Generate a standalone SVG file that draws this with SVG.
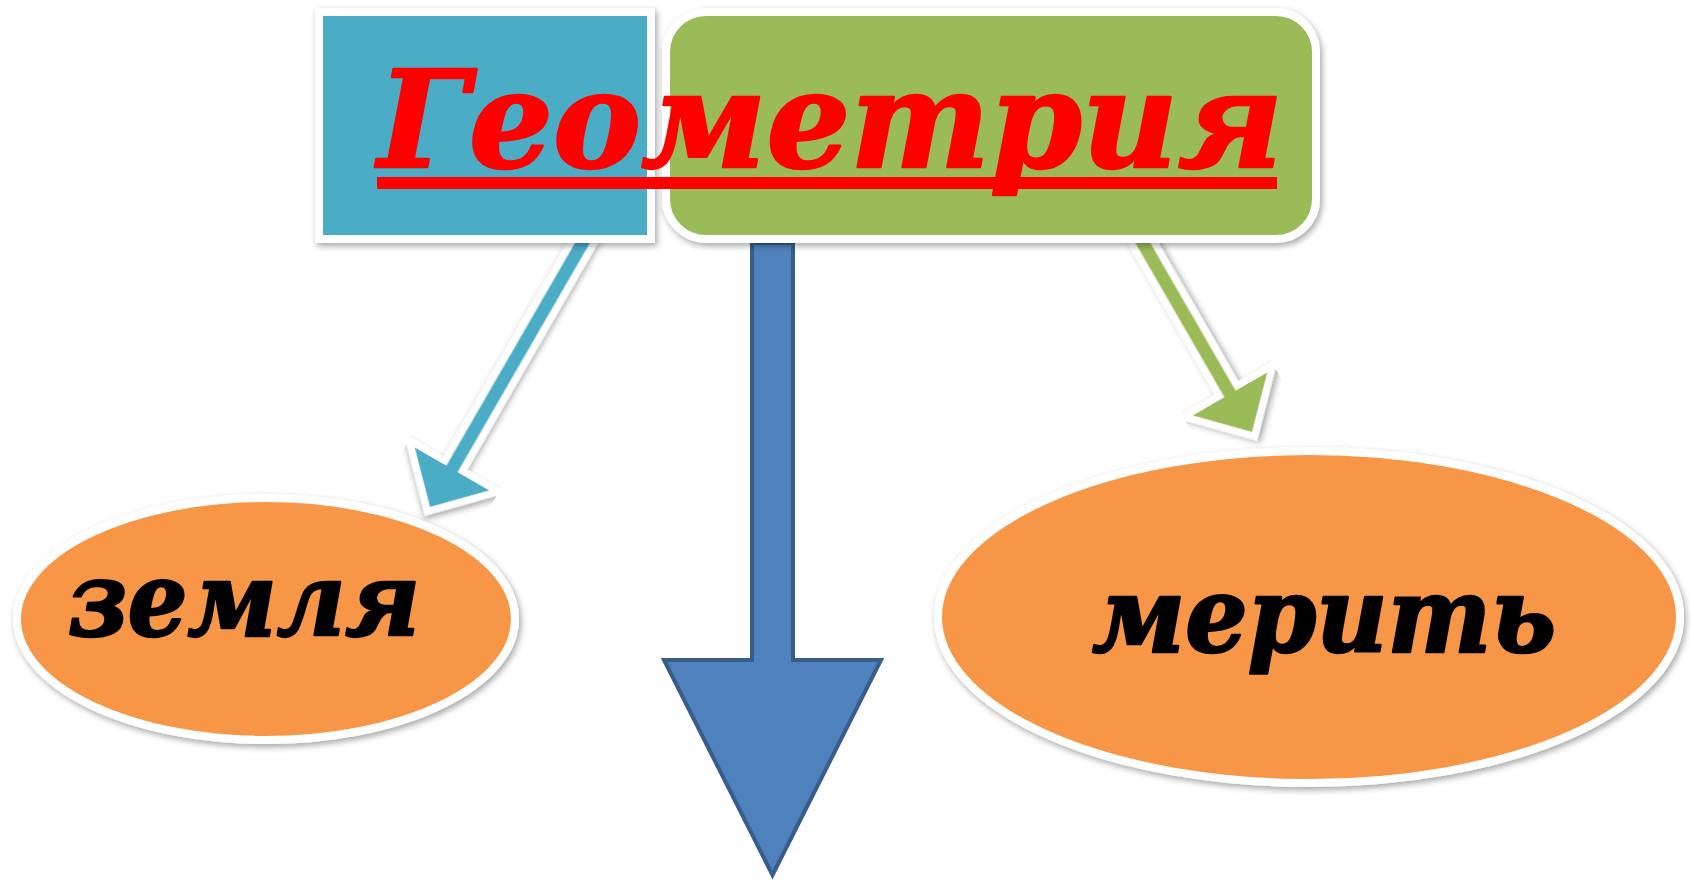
<svg xmlns="http://www.w3.org/2000/svg" width="1692" height="880" viewBox="0 0 1692 880">
  <defs>
    <filter id="sh" x="-10%" y="-10%" width="120%" height="130%">
      <feDropShadow dx="2" dy="3" stdDeviation="3" flood-color="#000" flood-opacity="0.35"/>
    </filter>
  </defs>
  <style>
    .wb { stroke: #ffffff; stroke-width: 8; }
    .arr { stroke: #ffffff; stroke-width: 14; stroke-linejoin: miter; stroke-miterlimit: 10; paint-order: stroke; }
    .lbl { font-family: "DejaVu Serif", "Liberation Serif", serif; font-weight: bold; font-style: italic; stroke-linejoin: round; }
  </style>
  <rect width="1692" height="880" fill="#ffffff"/>

  <g id="connectors">
    <path id="arrow-zemlya" class="arr" filter="url(#sh)" fill="#4BACC6" transform="translate(430,507) rotate(30)"
          d="M -6.5,-310 L 6.5,-310 L 6.5,-44 L 43,-44 L 0,0 L -43,-44 L -6.5,-44 Z"/>
    <path id="arrow-merit" class="arr" filter="url(#sh)" fill="#9BBB59" transform="translate(1252,432) rotate(-30)"
          d="M -6.5,-225 L 6.5,-225 L 6.5,-44 L 43,-44 L 0,0 L -43,-44 L -6.5,-44 Z"/>
    <path id="arrow-down" fill="#4F81BD" stroke="#385D8A" stroke-width="4" stroke-linejoin="miter"
          d="M 752,243 L 793,243 L 793,660 L 881,660 L 772.5,875 L 664,660 L 752,660 Z"/>
  </g>

  <g id="node-geo" filter="url(#sh)">
    <rect class="wb" x="319" y="12" width="332" height="227" fill="#4BACC6"/>
  </g>
  <g id="node-metria" filter="url(#sh)">
    <rect class="wb" x="666" y="12" width="650" height="227" rx="40" ry="40" fill="#9BBB59"/>
  </g>

  <g id="title">
    <text class="lbl" x="378" y="167" font-size="135" fill="#FF0000" stroke="#FF0000" stroke-width="2.5" textLength="905" lengthAdjust="spacingAndGlyphs">Геометрия</text>
    <rect x="377" y="177" width="900" height="12" fill="#FF0000"/>
  </g>

  <g id="node-zemlya">
    <ellipse class="wb" filter="url(#sh)" cx="266" cy="619" rx="249" ry="121" fill="#F79646"/>
    <text class="lbl" x="68" y="636" font-size="102" fill="#000000" stroke="#000000" stroke-width="2.5" textLength="352" lengthAdjust="spacingAndGlyphs">земля</text>
  </g>

  <g id="node-merit">
    <ellipse class="wb" filter="url(#sh)" cx="1309" cy="617" rx="371" ry="166" fill="#F79646"/>
    <text class="lbl" x="1092" y="652" font-size="104" fill="#000000" stroke="#000000" stroke-width="2.5" textLength="464" lengthAdjust="spacingAndGlyphs">мерить</text>
  </g>
</svg>
